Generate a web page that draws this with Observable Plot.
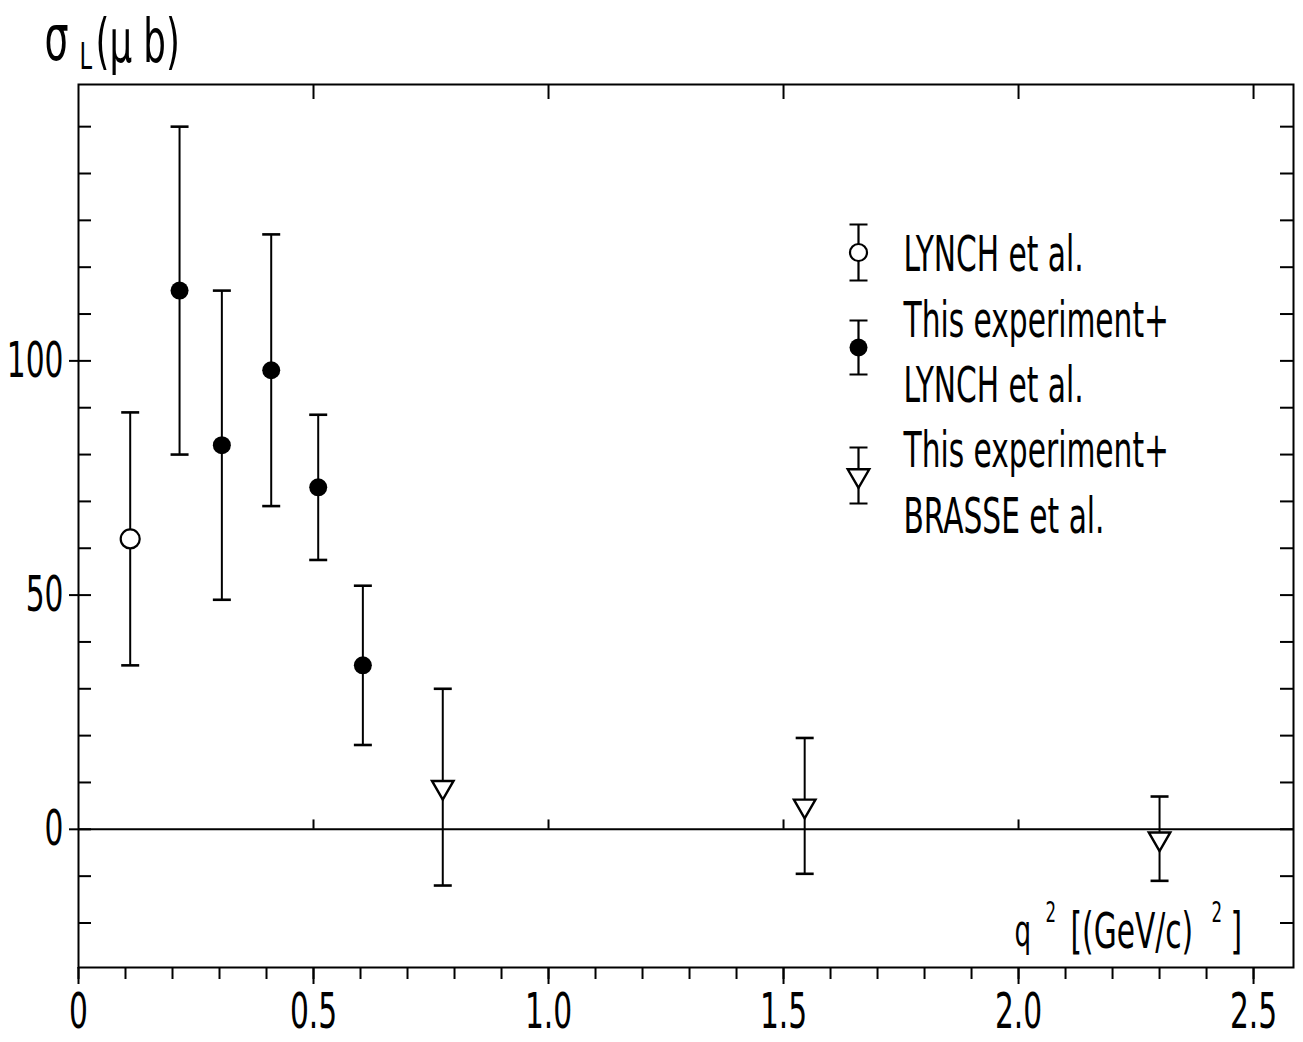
<!DOCTYPE html>
<html>
<head>
<meta charset="utf-8">
<script src="https://cdn.jsdelivr.net/npm/d3@7"></script>
<script src="https://cdn.jsdelivr.net/npm/@observablehq/plot@0.6"></script>
<style>
  html, body { margin: 0; padding: 0; background: #fff; }
  #chart svg { display: block; }
</style>
</head>
<body>
<div id="chart"></div>
<script>
// Longitudinal cross section σ_L (μb) versus q² [(GeV/c)²]

// LYNCH et al.
const lynchQ2 = [0.11];
const lynchSigma = [62];
const lynchErr = [27];

// This experiment + LYNCH et al.
const combinedQ2 = [0.215, 0.305, 0.41, 0.51, 0.605];
const combinedSigma = [115, 82, 98, 73, 35];
const combinedErr = [35, 33, 29, 15.5, 17];

// This experiment + BRASSE et al.
const brasseQ2 = [0.775, 1.545, 2.30];
const brasseSigma = [9, 5, -2];
const brasseErr = [21, 14.5, 9];

// Axis ticks
const xLabelTicks = [0, 0.5, 1.0, 1.5, 2.0, 2.5];
const xMinorTicks = [0, 0.1, 0.2, 0.3, 0.4, 0.5, 0.6, 0.7, 0.8, 0.9, 1.0, 1.1, 1.2, 1.3,
                     1.4, 1.5, 1.6, 1.7, 1.8, 1.9, 2.0, 2.1, 2.2, 2.3, 2.4, 2.5];
const yLabelTicks = [0, 50, 100];
const yMinorTicks = [-20, -10, 0, 10, 20, 30, 40, 50, 60, 70, 80, 90, 100,
                     110, 120, 130, 140, 150];
const zeroLineTicks = [0.5, 1.0, 1.5, 2.0];

// Legend
const legendLines = ["LYNCH et al.", "This experiment+", "LYNCH et al.", "This experiment+", "BRASSE et al."];

const FONT = '"DejaVu Sans Condensed", "DejaVu Sans", sans-serif';
const CONDENSE = 0.66; // horizontal squeeze giving the narrow drafting-lettering look

const toRows = (q2, sigma, err) => q2.map((q, i) => ({q2: q, sigma: sigma[i], err: err[i]}));
const lynch = toRows(lynchQ2, lynchSigma, lynchErr);
const combined = toRows(combinedQ2, combinedSigma, combinedErr);
const brasse = toRows(brasseQ2, brasseSigma, brasseErr);
const allPoints = [...lynch, ...combined, ...brasse];

// horizontal cap symbol for error bars
const capSymbol = {
  draw(context, size) {
    const r = Math.sqrt(size / Math.PI);
    context.moveTo(-r, 0);
    context.lineTo(r, 0);
  }
};
// complete vertical error bar glyph (used in the legend)
const errorGlyph = (half, cap) => ({
  draw(context) {
    context.moveTo(0, -half); context.lineTo(0, half);
    context.moveTo(-cap, -half); context.lineTo(cap, -half);
    context.moveTo(-cap, half); context.lineTo(cap, half);
  }
});

const xFormat = d => d === 0 ? "0" : d.toFixed(1);
const blank = () => "";

// legend layout, in pixels from the frame's top-left corner
const legendSymbolDx = 780;
const legendTextDx = 825;
const legendTextDy = 140;
const legendItems = [
  {dy: 168, half: 28, mark: {r: 8.5, fill: "white", stroke: "black", strokeWidth: 2.2}},
  {dy: 263, half: 27, mark: {r: 9, fill: "black"}},
  {dy: 391, half: 28, mark: {symbol: "triangle", rotate: 180, r: 8, fill: "white", stroke: "black", strokeWidth: 2.4}}
];

// axis titles, built from pieces so the exponents and subscript sit raised / lowered
const xTitleParts = [
  {text: "q", anchor: "bottom-right", dx: -279, dy: -36, size: 44},
  {text: "2", anchor: "bottom-right", dx: -248, dy: -54, size: 28},
  {text: "[(GeV/c)", anchor: "bottom-right", dx: -223, dy: -36, size: 50},
  {text: "2", anchor: "bottom-right", dx: -82, dy: -54, size: 28},
  {text: "]", anchor: "bottom-right", dx: -63, dy: -36, size: 50}
];
const yTitleParts = [
  {text: "σ", anchor: "top-left", dx: -34, dy: -45, size: 64},
  {text: "L", anchor: "top-left", dx: 1, dy: -28, size: 38},
  {text: "(μ b)", anchor: "top-left", dx: 17, dy: -42, size: 60}
];

const plot = Plot.plot({
  width: 1303,
  height: 1042,
  marginLeft: 78,
  marginRight: 10,
  marginTop: 84,
  marginBottom: 75,
  style: {fontFamily: FONT, background: "white", color: "black", overflow: "visible"},
  x: {domain: [0, 2.585], label: null},
  y: {domain: [-29.5, 159], label: null},
  marks: [
    Plot.frame({stroke: "black", strokeWidth: 2}),
    // bottom axis: minor and labelled major ticks
    Plot.axisX(xMinorTicks, {anchor: "bottom", tickSize: 12, tickFormat: blank, strokeWidth: 2, label: null}),
    Plot.axisX(xLabelTicks, {anchor: "bottom", tickSize: 17, tickPadding: 8, tickFormat: xFormat,
                             fontSize: 50, strokeWidth: 2, label: null}),
    // top axis: inward ticks
    Plot.axisX(xLabelTicks.slice(1), {anchor: "top", tickSize: -14, tickFormat: blank, strokeWidth: 2, label: null}),
    // left axis: inward minor ticks + labelled outward major ticks
    Plot.axisY(yMinorTicks, {anchor: "left", tickSize: -13, tickFormat: blank, strokeWidth: 2, label: null}),
    Plot.axisY(yLabelTicks, {anchor: "left", tickSize: 9, tickPadding: 6, fontSize: 50, strokeWidth: 2, label: null}),
    // right axis: inward ticks
    Plot.axisY(yMinorTicks, {anchor: "right", tickSize: -14, tickFormat: blank, strokeWidth: 2, label: null}),

    // zero line with small marks
    Plot.ruleY([0], {stroke: "black", strokeWidth: 2}),
    Plot.ruleX(zeroLineTicks, {y1: 0, y2: 2, stroke: "black", strokeWidth: 2}),

    // error bars
    Plot.ruleX(allPoints, {x: "q2", y1: d => d.sigma - d.err, y2: d => d.sigma + d.err, stroke: "black", strokeWidth: 2}),
    Plot.dot(allPoints, {x: "q2", y: d => d.sigma + d.err, symbol: capSymbol, r: 9, stroke: "black", strokeWidth: 2.6}),
    Plot.dot(allPoints, {x: "q2", y: d => d.sigma - d.err, symbol: capSymbol, r: 9, stroke: "black", strokeWidth: 2.6}),

    // data points
    Plot.dot(lynch, {x: "q2", y: "sigma", r: 9.5, fill: "white", stroke: "black", strokeWidth: 2.2}),
    Plot.dot(combined, {x: "q2", y: "sigma", r: 9, fill: "black"}),
    Plot.dot(brasse, {x: "q2", y: "sigma", symbol: "triangle", rotate: 180, r: 8, fill: "white", stroke: "black", strokeWidth: 2.4}),

    // legend
    ...legendItems.flatMap(item => [
      Plot.dot([0], {frameAnchor: "top-left", dx: legendSymbolDx, dy: item.dy, symbol: errorGlyph(item.half, 9),
                     stroke: "black", strokeWidth: 2.2}),
      Plot.dot([0], {frameAnchor: "top-left", dx: legendSymbolDx, dy: item.dy, ...item.mark})
    ]),
    Plot.text([legendLines.join("\n")], {frameAnchor: "top-left", dx: legendTextDx, dy: legendTextDy,
      text: d => d, textAnchor: "start", lineAnchor: "top", lineHeight: 1.31, fontSize: 50, fill: "black"}),

    // axis titles
    ...[...xTitleParts, ...yTitleParts].map(p =>
      Plot.text([p.text], {frameAnchor: p.anchor, dx: p.dx, dy: p.dy, text: d => d, textAnchor: "start",
        lineAnchor: "middle", fontSize: p.size, fill: "black"}))
  ]
});

// narrow every label around its own anchor point
plot.querySelectorAll("text").forEach(t => {
  let tr = t.getAttribute("transform");
  if (tr == null) {
    const x = +t.getAttribute("x") || 0, y = +t.getAttribute("y") || 0;
    t.removeAttribute("x"); t.removeAttribute("y");
    tr = `translate(${x},${y})`;
  }
  t.setAttribute("transform", `${tr} scale(${CONDENSE},1)`);
});

document.getElementById("chart").append(plot);
</script>
</body>
</html>
